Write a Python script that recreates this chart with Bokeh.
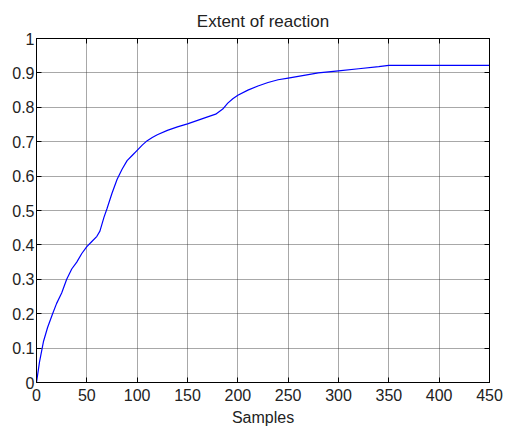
from bokeh.plotting import figure
from bokeh.models import LinearAxis, FixedTicker, CustomJSTickFormatter, Range1d
from bokeh.embed import file_html
from bokeh.resources import INLINE

# Data
samples = [0, 3, 7, 11, 16, 20, 25, 30, 35, 40, 45, 50, 55, 60, 63, 67, 70, 75,
           80, 85, 90, 95, 100, 105, 110, 115, 120, 130, 140, 150, 160, 170, 178,
           185, 190, 195, 200, 210, 220, 230, 240, 250, 260, 270, 280, 290, 300,
           320, 340, 350, 400, 450]
extent = [0, 0.06, 0.12, 0.16, 0.20, 0.23, 0.26, 0.30, 0.33, 0.35, 0.375, 0.395,
          0.41, 0.425, 0.44, 0.48, 0.505, 0.55, 0.59, 0.62, 0.645, 0.66, 0.675,
          0.69, 0.703, 0.712, 0.72, 0.733, 0.743, 0.752, 0.762, 0.772, 0.78,
          0.795, 0.812, 0.825, 0.835, 0.85, 0.862, 0.872, 0.88, 0.885, 0.89,
          0.895, 0.9, 0.903, 0.906, 0.912, 0.918, 0.922, 0.922, 0.922]
x_ticks = [0, 50, 100, 150, 200, 250, 300, 350, 400, 450]
y_ticks = [0, 0.1, 0.2, 0.3, 0.4, 0.5, 0.6, 0.7, 0.8, 0.9, 1.0]

FONT = "Liberation Sans"
FS = "16px"

p = figure(width=507, height=428, output_backend="svg", toolbar_location=None,
           x_range=Range1d(0, 450), y_range=Range1d(0, 1),
           min_border_left=36, min_border_right=18, min_border_top=38,
           min_border_bottom=46, title="Extent of reaction")
p.title.align = "center"
p.title.text_font = FONT
p.title.text_font_size = "17px"
p.title.text_font_style = "normal"
p.title.text_color = "#222222"
p.title.standoff = 16

p.line(samples, extent, line_color="#0000ff", line_width=1.2)

fmt = CustomJSTickFormatter(code="return (Math.round(tick*10)/10).toString();")
blank = CustomJSTickFormatter(code="return '';")

for ax, ticks in ((p.xaxis[0], x_ticks), (p.yaxis[0], y_ticks)):
    ax.ticker = FixedTicker(ticks=ticks)
    ax.major_tick_in = 5
    ax.major_tick_out = 0
    ax.minor_tick_line_color = None
    ax.axis_line_color = "black"
    ax.major_tick_line_color = "black"
    ax.major_label_text_font = FONT
    ax.major_label_text_font_size = FS
    ax.major_label_text_color = "#222222"
p.yaxis[0].formatter = fmt
p.yaxis[0].major_label_standoff = 2
p.xaxis[0].major_label_standoff = 6
p.xaxis[0].axis_label = "Samples"
p.xaxis[0].axis_label_text_font = FONT
p.xaxis[0].axis_label_text_font_size = FS
p.xaxis[0].axis_label_text_font_style = "normal"
p.xaxis[0].axis_label_text_color = "#222222"
p.xaxis[0].axis_label_standoff = 5

for loc, ticks in (("right", y_ticks), ("above", x_ticks)):
    ax = LinearAxis(ticker=FixedTicker(ticks=ticks), formatter=blank,
                    major_tick_in=5, major_tick_out=0,
                    minor_tick_line_color=None, major_label_standoff=0,
                    axis_line_color="black")
    p.add_layout(ax, loc)

p.xgrid.ticker = FixedTicker(ticks=x_ticks)
p.ygrid.ticker = FixedTicker(ticks=y_ticks)
p.grid.grid_line_color = "#333333"
p.grid.grid_line_dash = "1 1"
p.grid.grid_line_alpha = 0.85
p.outline_line_color = "black"
p.outline_line_alpha = 1.0

open("out.html", "w").write(file_html(p, INLINE))
